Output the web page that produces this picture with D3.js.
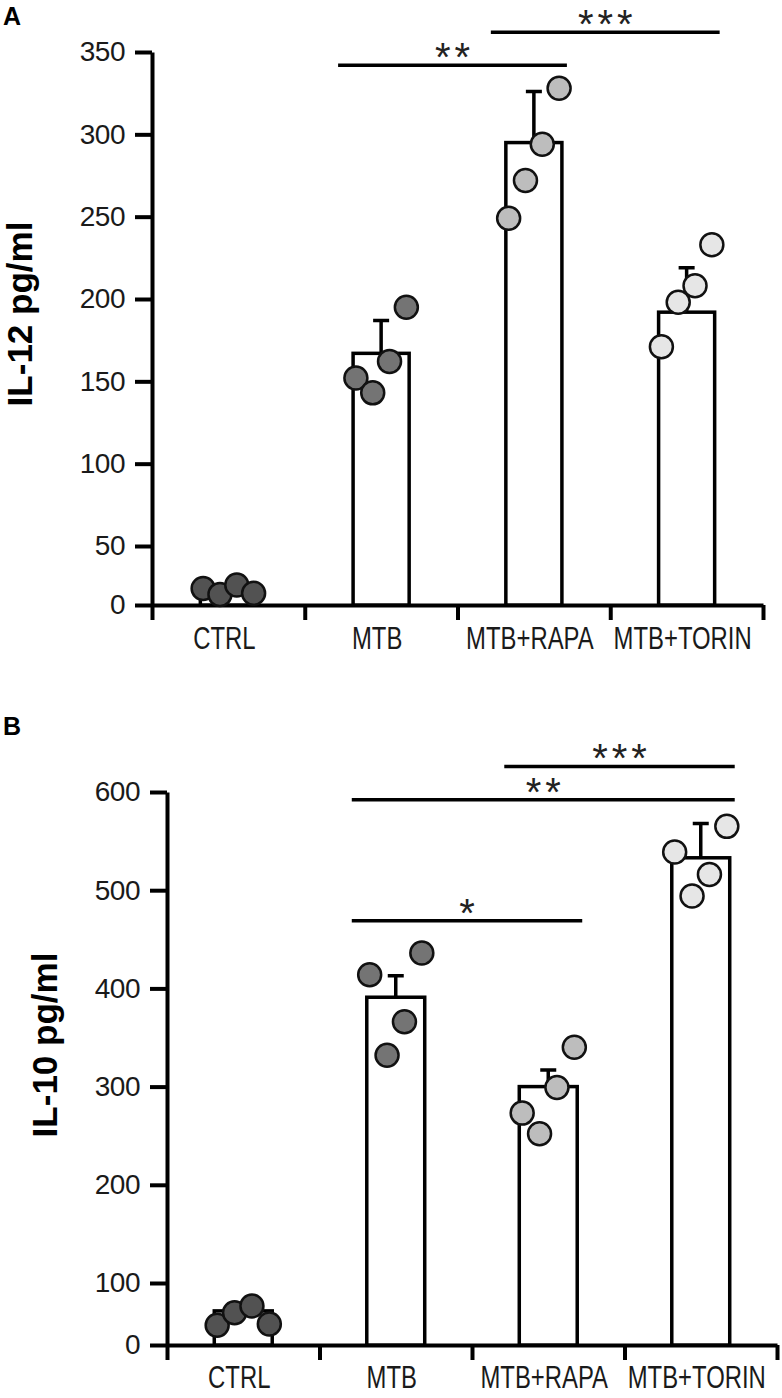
<!DOCTYPE html>
<html>
<head>
<meta charset="utf-8">
<script src="https://cdnjs.cloudflare.com/ajax/libs/d3/7.8.5/d3.min.js"></script>
<style>
body { margin: 0; background: #fff; }
svg text { font-family: "Liberation Sans", Arial, sans-serif; }
</style>
</head>
<body>
<div id="chart"></div>
<script>
// groups on the x axis
var categories = ["CTRL", "MTB", "MTB+RAPA", "MTB+TORIN"]

// panel A, IL-12 (pg/ml)
var il12Mean = [13, 167, 295, 192]
var il12Sd = [3, 20, 31, 27]
var il12Points = [[14, 9, 17, 10], [152, 143, 162, 195], [249, 272, 294, 328], [171, 198, 208, 233]]
var il12Ticks = [0, 50, 100, 150, 200, 250, 300, 350]
var il12Sig = [
  {from: "MTB", to: "MTB+RAPA", label: "**", at: 342},
  {from: "MTB+RAPA", to: "MTB+TORIN", label: "***", at: 362}
]

// panel B, IL-10 (pg/ml)
var il10Mean = [55, 391, 300, 533]
var il10Sd = [6, 22, 17, 35]
var il10Points = [[32, 52, 63, 34], [414, 332, 366, 436], [273, 252, 299, 340], [539, 494, 516, 565]]
var il10Ticks = [0, 100, 200, 300, 400, 500, 600]
var il10Sig = [
  {from: "MTB", to: "MTB+RAPA", label: "*", at: 469},
  {from: "MTB", to: "MTB+TORIN", label: "**", at: 592},
  {from: "MTB+RAPA", to: "MTB+TORIN", label: "***", at: 626}
]

var dotFill = ["#525252", "#747474", "#bdbdbd", "#e6e6e6"]

var svg = d3.select("#chart").append("svg")
  .attr("width", 782)
  .attr("height", 1398)

function panel(p) {
  var g = svg.append("g")

  var x = d3.scaleBand().domain(categories)
    .range([p.left, p.right])
    .paddingInner(p.pad).paddingOuter(p.pad / 2)
  // the first interval of the original axis is squeezed, so the scale is piecewise
  var y = d3.scaleLinear()
    .domain([0, p.ticks[1], d3.max(p.ticks)])
    .range([p.base, p.firstY, p.top])
  var bw = x.bandwidth()

  // panel letter
  g.append("text").attr("x", 3).attr("y", p.letterY)
    .style("font-size", "25px").style("font-weight", "bold")
    .text(p.letter)

  // y axis title
  g.append("text")
    .attr("transform", "translate(" + p.titleX + "," + p.titleY + ") rotate(-90)")
    .attr("text-anchor", "middle")
    .style("font-size", "35px").style("font-weight", "bold")
    .text(p.title)

  // y axis
  var ya = g.append("g").attr("transform", "translate(" + p.left + ",0)")
    .call(d3.axisLeft(y).tickValues(p.ticks).tickSize(17).tickSizeOuter(0).tickPadding(10))
  ya.selectAll("path, line").attr("stroke", "#000").attr("stroke-width", 4)
  ya.selectAll("text").style("font-size", "28px").style("letter-spacing", "-0.5px").attr("fill", "#1a1a1a")

  // x axis: ticks sit between the groups
  var edge = d3.scaleLinear().domain([0, categories.length]).range([p.left, p.right])
  var xa = g.append("g").attr("transform", "translate(0," + p.base + ")")
    .call(d3.axisBottom(edge).ticks(categories.length).tickSize(15).tickSizeOuter(0).tickFormat(""))
  xa.selectAll("path, line").attr("stroke", "#000").attr("stroke-width", 4)

  // group labels, squeezed sideways like the narrow font of the original
  var xl = g.append("g").attr("transform", "translate(-4," + p.base + ")")
    .call(d3.axisBottom(x).tickSize(0).tickPadding(p.labelPad))
  xl.select(".domain").remove()
  xl.selectAll("text").style("font-size", "31px").attr("fill", "#1a1a1a")
    .attr("transform", "scale(0.77,1)")

  // bars
  g.selectAll(".bar").data(categories).enter().append("rect")
    .attr("class", "bar")
    .attr("x", function(d) { return x(d) })
    .attr("width", bw)
    .attr("y", function(d, i) { return y(p.mean[i]) })
    .attr("height", function(d, i) { return y(0) - y(p.mean[i]) })
    .attr("fill", "#fff")
    .attr("stroke", "#000")
    .attr("stroke-width", 3.5)

  // upper error bars
  g.selectAll(".err").data(categories).enter().append("path")
    .attr("class", "err")
    .attr("d", function(d, i) {
      var cx = x(d) + bw / 2, top = y(p.mean[i] + p.sd[i])
      return "M" + cx + "," + y(p.mean[i]) + "V" + top + "M" + (cx - 8) + "," + top + "H" + (cx + 8)
    })
    .attr("fill", "none")
    .attr("stroke", "#000")
    .attr("stroke-width", 3.5)

  // individual values
  categories.forEach(function(c, i) {
    var pts = p.points[i], n = pts.length
    g.selectAll(".dot" + i).data(pts).enter().append("circle")
      .attr("class", "dot" + i)
      .attr("cx", function(d, j) { return x(c) + bw / 2 + (j - (n - 1) / 2) * bw * 0.3 })
      .attr("cy", function(d) { return y(d) })
      .attr("r", 11.5)
      .attr("fill", dotFill[i])
      .attr("stroke", "#111")
      .attr("stroke-width", 2.5)
  })

  // significance lines
  var sig = g.selectAll(".sig").data(p.sig).enter().append("g").attr("class", "sig")
  sig.append("line")
    .attr("x1", function(d) { return x(d.from) - 15 })
    .attr("x2", function(d) { return x(d.to) + bw + 5 })
    .attr("y1", function(d) { return y(d.at) })
    .attr("y2", function(d) { return y(d.at) })
    .attr("stroke", "#000")
    .attr("stroke-width", 3.5)
  sig.append("text")
    .attr("x", function(d) { return (x(d.from) - 15 + x(d.to) + bw + 5) / 2 + 2 })
    .attr("y", function(d) { return y(d.at) + 6 })
    .attr("text-anchor", "middle")
    .style("font-size", "40px")
    .style("letter-spacing", "4px")
    .attr("fill", "#222")
    .text(function(d) { return d.label })
}

panel({
  letter: "A", letterY: 25, title: "IL-12 pg/ml", titleX: 32, titleY: 314,
  left: 152, right: 763, pad: 0.633, top: 52, base: 605, firstY: 546, labelPad: 22,
  ticks: il12Ticks, mean: il12Mean, sd: il12Sd, points: il12Points, sig: il12Sig
})

panel({
  letter: "B", letterY: 735, title: "IL-10 pg/ml", titleX: 57, titleY: 1045,
  left: 167, right: 777, pad: 0.62, top: 792, base: 1345, firstY: 1283, labelPad: 21,
  ticks: il10Ticks, mean: il10Mean, sd: il10Sd, points: il10Points, sig: il10Sig
})
</script>
</body>
</html>
